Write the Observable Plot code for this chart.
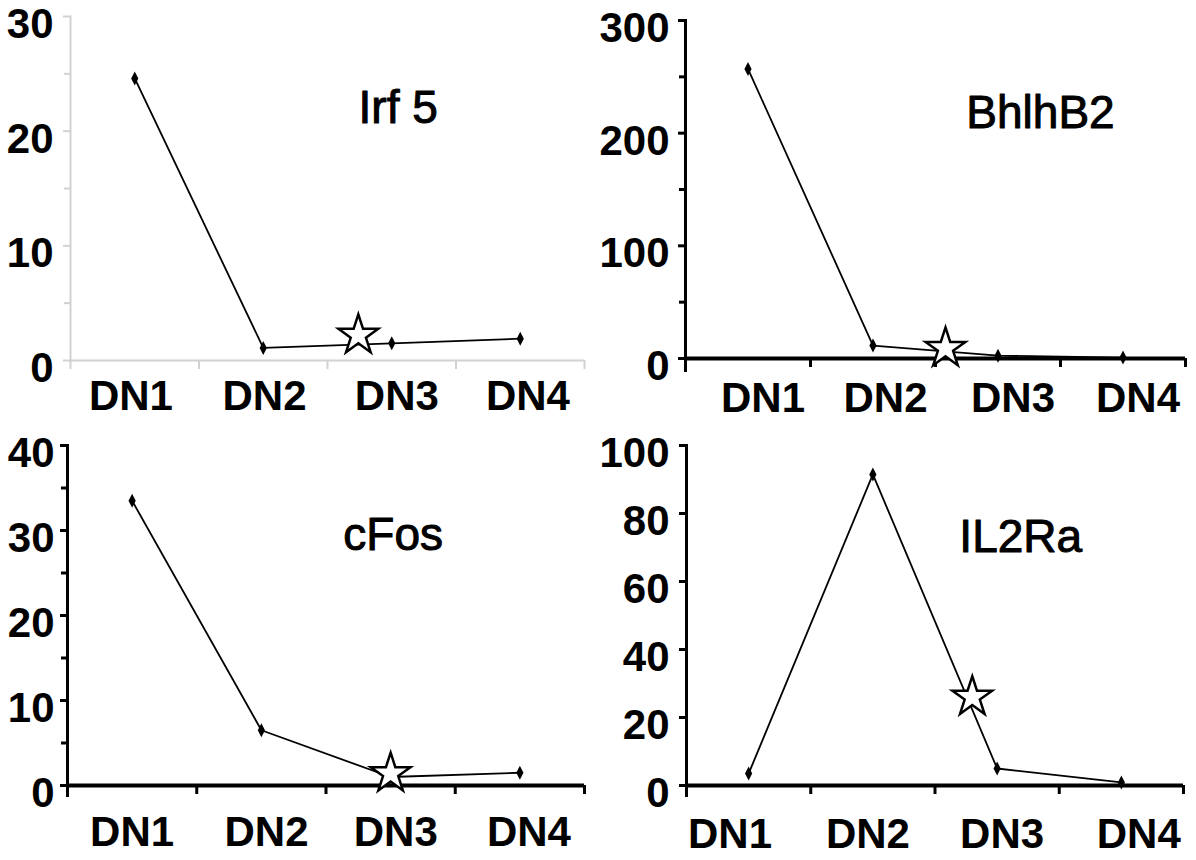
<!DOCTYPE html>
<html>
<head>
<meta charset="utf-8">
<script src="https://cdn.jsdelivr.net/npm/d3@7"></script>
<script src="https://cdn.jsdelivr.net/npm/@observablehq/plot@0.6"></script>
<style>
  html, body { margin: 0; padding: 0; background: #fff; }
  #wrap { position: relative; width: 1196px; height: 860px; overflow: hidden; background: #fff; }
  .panel { position: absolute; }
  .panel svg { display: block; }
</style>
</head>
<body>
<div id="wrap"></div>
<script>
// ---- data ----
const stages = ["DN1", "DN2", "DN3", "DN4"];
const genes = ["Irf 5", "BhlhB2", "cFos", "IL2Ra"];
const irf5   = [24.6, 1.1, 1.5, 1.9];
const bhlhb2 = [257, 11.5, 2.5, 0.8];
const cfos   = [33.5, 6.5, 1.0, 1.5];
const il2ra  = [3.5, 91.5, 5, 0.9];
// star marker: fractional stage index and value
const starStage = [1.74, 1.58, 2.0, 1.80];
const starValue = [2.2, 9, 1.4, 26];
// y axes
const yMax = [30, 300, 40, 100];
const yTickLabels = [[0, 10, 20, 30], [0, 100, 200, 300], [0, 10, 20, 30, 40], [0, 20, 40, 60, 80, 100]];
const yMinorTicks = [[5, 15, 25], [50, 150, 250], [5, 15, 25, 35], []];

const series = [irf5, bhlhb2, cfos, il2ra];

// ---- layout ----
const panels = [
  {left: 0,   top: 0,   w: 596, h: 430, ml: 70, mr: 12, mt: 16, mb: 70, color: "#d2d2d2", sw: 2, xsw: 2, ext: 0,
   yPad: 17, xPad: 20, xLabelAt: [-0.03, 1.01, 2.04, 3.06], geneAt: [2.05, 22]},
  {left: 596, top: 0,   w: 600, h: 430, ml: 89, mr: 11, mt: 20, mb: 72, color: "#000", sw: 3, xsw: 4, ext: -12,
   yPad: 16, xPad: 24, xLabelAt: [0.12, 1.10, 2.12, 3.12], geneAt: [2.34, 218]},
  {left: 0,   top: 430, w: 596, h: 430, ml: 67, mr: 12, mt: 15, mb: 75, color: "#000", sw: 3, xsw: 4, ext: -10,
   yPad: 13, xPad: 31, xLabelAt: [0, 1.04, 2.04, 3.07], geneAt: [2.02, 29.4]},
  {left: 596, top: 430, w: 600, h: 430, ml: 90, mr: 13, mt: 15, mb: 75, color: "#000", sw: 3, xsw: 4, ext: -10,
   yPad: 17, xPad: 33, xLabelAt: [-0.15, 0.96, 2.04, 3.14], geneAt: [2.19, 73]}
];

// tall diamond marker
const tallDiamond = {
  draw(ctx) {
    const w = 3.6, h = 7;
    ctx.moveTo(0, -h); ctx.lineTo(w, 0); ctx.lineTo(0, h); ctx.lineTo(-w, 0); ctx.closePath();
  }
};

const FONT = "'Liberation Sans', Arial, Helvetica, sans-serif";
const wrap = document.getElementById("wrap");

panels.forEach((cfg, i) => {
  const data = series[i].map((v, k) => ({k, v}));
  const star = [{k: starStage[i], v: starValue[i]}];
  const bounds = [-0.5, 0.5, 1.5, 2.5, 3.5];
  const plot = Plot.plot({
    width: cfg.w,
    height: cfg.h,
    marginLeft: cfg.ml, marginRight: cfg.mr, marginTop: cfg.mt, marginBottom: cfg.mb,
    x: {type: "linear", domain: [-0.5, 3.5], axis: null, label: null},
    y: {type: "linear", domain: [0, yMax[i]], axis: null, label: null},
    style: {fontFamily: FONT, fontSize: "42px", fontWeight: "bold", color: "#000", background: "transparent", overflow: "visible"},
    marks: [
      // y axis ticks
      Plot.axisY({ticks: yMinorTicks[i], tickSize: 6, tickFormat: () => "", label: null, stroke: cfg.color, strokeWidth: cfg.sw}),
      Plot.axisY({ticks: yTickLabels[i], tickSize: 7, tickFormat: () => "", label: null, stroke: cfg.color, strokeWidth: cfg.sw}),
      // x axis boundary ticks
      Plot.axisX({ticks: bounds, tickSize: 9, tickFormat: () => "", label: null, stroke: cfg.color, strokeWidth: cfg.sw}),
      // axis lines
      Plot.frame({anchor: "left", stroke: cfg.color, strokeWidth: cfg.sw, insetBottom: cfg.ext}),
      Plot.ruleY([0], {stroke: cfg.color, strokeWidth: cfg.xsw}),
      // y tick labels
      Plot.text(yTickLabels[i], {y: d => d, text: d => String(d), frameAnchor: "left", textAnchor: "end",
        dx: -cfg.yPad, dy: 8, fill: "#000", fontSize: 42, fontWeight: "bold"}),
      // x category labels
      Plot.text(stages, {x: (d, j) => cfg.xLabelAt[j], text: d => d, frameAnchor: "bottom", lineAnchor: "top",
        dy: cfg.xPad, fill: "#000", fontSize: 42, fontWeight: "bold"}),
      // series
      Plot.line(data, {x: "k", y: "v", stroke: "#000", strokeWidth: 1.8}),
      Plot.dot(data, {x: "k", y: "v", symbol: tallDiamond, r: 4, fill: "#000", stroke: "none"}),
      Plot.dot(star, {x: "k", y: "v", symbol: "star", r: 12.5, fill: "#fff", stroke: "#000", strokeWidth: 2.5}),
      // gene name
      Plot.text([genes[i]], {x: () => cfg.geneAt[0], y: () => cfg.geneAt[1], text: d => d,
        textAnchor: "middle", lineAnchor: "middle", fill: "#000", fontSize: 46, fontWeight: "normal",
        stroke: "#000", strokeWidth: 1})
    ]
  });
  const div = document.createElement("div");
  div.className = "panel";
  div.style.left = cfg.left + "px";
  div.style.top = cfg.top + "px";
  div.style.width = cfg.w + "px";
  div.style.height = cfg.h + "px";
  div.appendChild(plot);
  wrap.appendChild(div);
});
</script>
</body>
</html>
